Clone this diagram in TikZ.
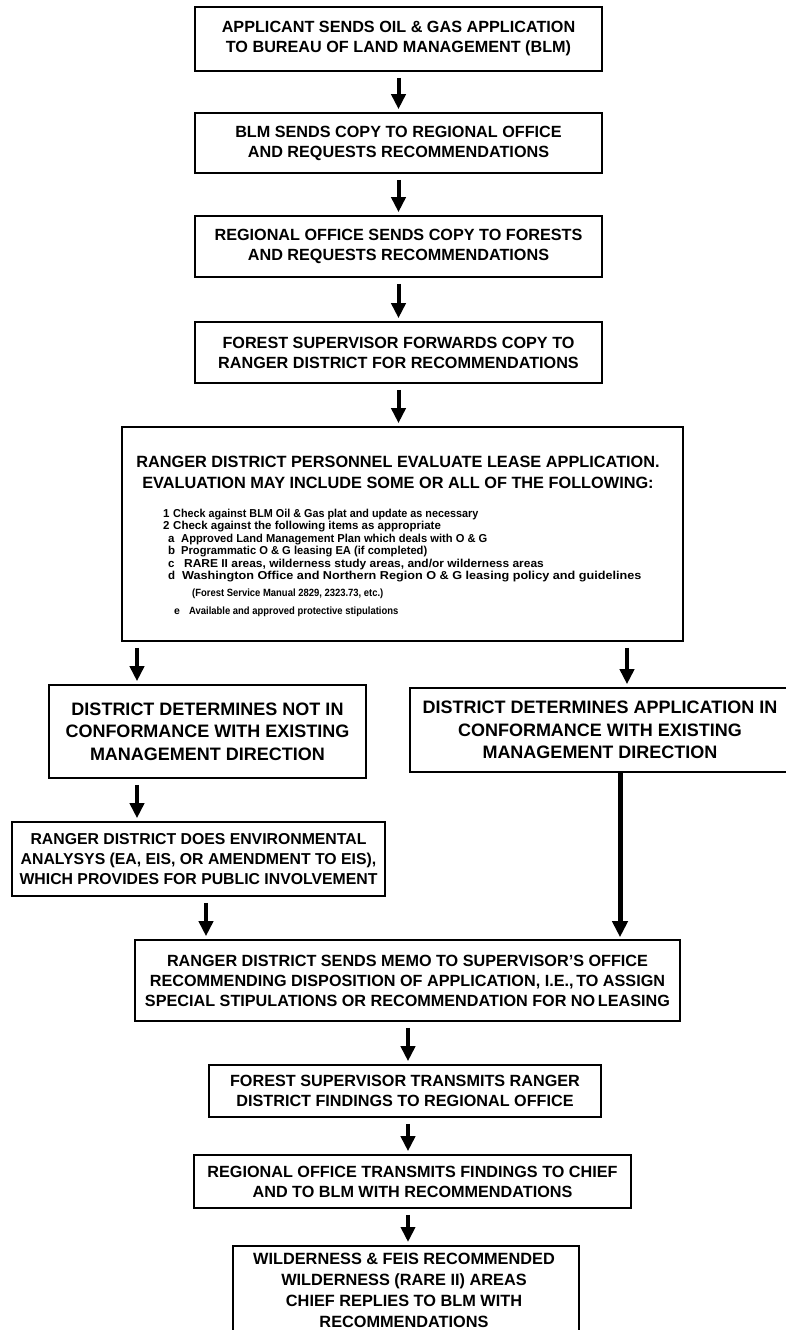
\documentclass[tikz,border=0pt]{standalone}
\usepackage{fontspec}
\setmainfont{Liberation Sans}
\usetikzlibrary{arrows.meta,calc}
\begin{document}
\begin{tikzpicture}[x=1pt,y=-1pt,
  box/.style={draw, line width=1.6pt, rectangle, inner sep=0pt, align=center,
    font=\fontsize{16.2}{20}\selectfont\bfseries},
  envbox/.style={box, font=\fontsize{15.8}{20}\selectfont\bfseries},
  bigbox/.style={box, font=\fontsize{18}{22.5}\selectfont\bfseries},
  frame/.style={draw, line width=1.6pt, rectangle, inner sep=0pt},
  label/.style={inner sep=0pt, align=center, font=\fontsize{16.3}{21}\selectfont\bfseries},
  small/.style={anchor=base west, inner sep=0pt, font=\fontsize{11.5}{12.5}\selectfont\bfseries},
  smaller/.style={small, font=\fontsize{10.5}{12}\selectfont\bfseries},
  arr/.style={line width=4pt, -{Triangle[width=14pt,length=15pt]}, shorten <=6pt, shorten >=3pt},
  longarr/.style={line width=5pt, -{Triangle[width=15pt,length=16pt]}, shorten >=2pt}]
\useasboundingbox (0,0) rectangle (786,1330);

% top column
\node[box, minimum width=407pt, minimum height=64pt] (b1) at (398.5,39)
  {APPLICANT SENDS OIL \& GAS APPLICATION\\TO BUREAU OF LAND MANAGEMENT (BLM)};
\node[box, minimum width=407pt, minimum height=60pt] (b2) at (398.5,143)
  {BLM SENDS COPY TO REGIONAL OFFICE\\AND REQUESTS RECOMMENDATIONS};
\node[box, minimum width=407pt, minimum height=61pt] (b3) at (398.5,246.5)
  {REGIONAL OFFICE SENDS COPY TO FORESTS\\AND REQUESTS RECOMMENDATIONS};
\node[box, minimum width=407pt, minimum height=61pt] (b4) at (398.5,352.5)
  {FOREST SUPERVISOR FORWARDS COPY TO\\RANGER DISTRICT FOR RECOMMENDATIONS};

% big evaluation box
\node[frame, minimum width=561pt, minimum height=214pt] (b5) at (402.5,534) {};
\node[label] (h5) at (398,472)
  {RANGER DISTRICT PERSONNEL EVALUATE LEASE APPLICATION.\\EVALUATION MAY INCLUDE SOME OR ALL OF THE FOLLOWING:};
\node[small] (l1a) at (163,517) {1};
\node[small] (l1b) at (173,517) {\scalebox{0.94}[1]{Check against BLM Oil \& Gas plat and update as necessary}};
\node[small] (l2a) at (163,529.5) {2};
\node[small] (l2b) at (173,529.5) {Check against the following items as appropriate};
\node[small] (l3a) at (168,542) {a};
\node[small] (l3b) at (181,542) {\scalebox{0.97}[1]{Approved Land Management Plan which deals with O \& G}};
\node[small] (l4a) at (168,554.5) {b};
\node[small] (l4b) at (181,554.5) {\scalebox{0.97}[1]{Programmatic O \& G leasing EA (if completed)}};
\node[small] (l5a) at (168,567) {c};
\node[small] (l5b) at (184,567) {\scalebox{1.04}[1]{RARE II areas, wilderness study areas, and/or wilderness areas}};
\node[small] (l6a) at (168,579.5) {d};
\node[small] (l6b) at (182,579.5) {\scalebox{1.1}[1]{Washington Office and Northern Region O \& G leasing policy and guidelines}};
\node[smaller] (l7) at (192,596) {\scalebox{0.9}[1]{(Forest Service Manual 2829, 2323.73, etc.)}};
\node[smaller] (l8a) at (174,614) {e};
\node[smaller] (l8b) at (189,614) {\scalebox{0.9}[1]{Available and approved protective stipulations}};

% branches
\node[bigbox, minimum width=317pt, minimum height=93pt] (b6L) at (207.5,731.5)
  {DISTRICT DETERMINES NOT IN\\CONFORMANCE WITH EXISTING\\MANAGEMENT DIRECTION};
\node[bigbox, minimum width=380pt, minimum height=84pt] (b6R) at (600,730)
  {DISTRICT DETERMINES APPLICATION IN\\CONFORMANCE WITH EXISTING\\MANAGEMENT DIRECTION};
\node[envbox, minimum width=373pt, minimum height=74pt] (b7) at (198.5,859)
  {RANGER DISTRICT DOES ENVIRONMENTAL\\ANALYSYS (EA, EIS, OR AMENDMENT TO EIS),\\WHICH PROVIDES FOR PUBLIC INVOLVEMENT};

% lower column
\node[box, minimum width=545pt, minimum height=81pt] (b8) at (407.5,980.5)
  {RANGER DISTRICT SENDS MEMO TO SUPERVISOR'S OFFICE\\RECOMMENDING DISPOSITION OF APPLICATION, I.E.,\,TO ASSIGN\\SPECIAL STIPULATIONS OR RECOMMENDATION FOR NO\,LEASING};
\node[box, minimum width=392pt, minimum height=52pt] (b9) at (405,1091)
  {FOREST SUPERVISOR TRANSMITS RANGER\\DISTRICT FINDINGS TO REGIONAL OFFICE};
\node[box, minimum width=437pt, minimum height=53pt] (b10) at (412.5,1181.5)
  {REGIONAL OFFICE TRANSMITS FINDINGS TO CHIEF\\AND TO BLM WITH RECOMMENDATIONS};
\node[frame, minimum width=346pt, minimum height=160pt, anchor=north] (b11) at (406,1245) {};
\node[label, anchor=north] (t11) at (404,1253)
  {WILDERNESS \& FEIS RECOMMENDED\\WILDERNESS (RARE II) AREAS\\CHIEF REPLIES TO BLM WITH\hspace*{14pt}\\RECOMMENDATIONS};

% connector x positions
\coordinate (xl) at (137,0);
\coordinate (xr) at (627,0);
\coordinate (xrr) at (620,0);
\coordinate (xe) at (206,0);
\coordinate (xc) at (408,0);

\draw[arr] (b1) -- (b2);
\draw[arr] (b2) -- (b3);
\draw[arr] (b3) -- (b4);
\draw[arr] (b4.south) -- (b4.south |- b5.north);
\draw[arr] (xl |- b5.south) -- (xl |- b6L.north);
\draw[arr] (xr |- b5.south) -- (xr |- b6R.north);
\draw[arr] (xl |- b6L.south) -- (xl |- b7.north);
\draw[arr] (xe |- b7.south) -- (xe |- b8.north);
\draw[longarr] (xrr |- b6R.south) -- (xrr |- b8.north);
\draw[arr] (xc |- b8.south) -- (xc |- b9.north);
\draw[arr] (xc |- b9.south) -- (xc |- b10.north);
\draw[arr] (xc |- b10.south) -- (xc |- b11.north);
\end{tikzpicture}
\end{document}
